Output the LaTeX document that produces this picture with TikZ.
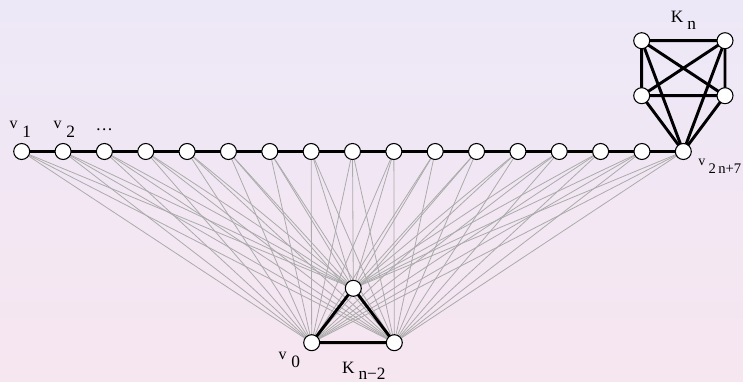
\documentclass[tikz,border=0pt]{standalone}
\usepackage{fontspec}
\setmainfont{Liberation Serif}
\usetikzlibrary{positioning,calc}
\definecolor{fondoa}{HTML}{EDE8F7}
\definecolor{fondob}{HTML}{F6E6F0}
\definecolor{grisl}{HTML}{ABABAB}
\pgfdeclarelayer{fondo}
\pgfdeclarelayer{aristas}
\pgfsetlayers{fondo,aristas,main}
\newcommand{\vsub}[1]{\raisebox{6.5pt}{\fontsize{12}{14}\selectfont v}\hspace{3.5pt}#1}
\newcommand{\ksub}[2]{K\hspace{3pt}\raisebox{-#2}{#1}}

\begin{document}
\begin{tikzpicture}[x=0.75pt,y=-0.75pt,
    vert/.style={circle,draw=black,fill=white,line width=0.8pt,minimum size=12pt,inner sep=0pt},
    fino/.style={draw=grisl,line width=0.6pt},
    grueso/.style={draw=black,line width=2.2pt},
    etiq/.style={inner sep=0pt,font=\fontsize{13}{15}\selectfont}]
  \begin{pgfonlayer}{fondo}
    \shade[top color=fondoa,bottom color=fondob] (0,0) rectangle (743,382);
  \end{pgfonlayer}
  \useasboundingbox (0,0) rectangle (743,382);
  % camino v_1 ... v_{2n+7}
  \foreach \i in {1,...,17}
    \node[vert] (p\i) at ({21.7+41.35*(\i-1)},151.5) {};
  % K_{n-2}
  \node[vert] (t0) at (311.7,342.7) {};
  \node[vert] (t1) at (353.3,288.3) {};
  \node[vert] (t2) at (394.3,342.7) {};
  % K_n
  \node[vert] (k1) at (641.7,40.7) {};
  \node[vert] (k2) at (725,40.7) {};
  \node[vert] (k3) at (641.7,95.7) {};
  \node[vert] (k4) at (725,95.7) {};
  \begin{pgfonlayer}{aristas}
    % aristas finas
    \foreach \i in {1,...,17}
      \foreach \t in {0,1,2}
        \draw[fino] (p\i.center) -- (t\t.center);
    % aristas gruesas
    \foreach \i [evaluate=\i as \j using int(\i+1)] in {1,...,16}
      \draw[grueso] (p\i.center) -- (p\j.center);
    \draw[grueso] (t0.center) -- (t1.center) -- (t2.center) -- cycle;
    \draw[grueso] (k1.center) -- (k2.center) -- (k4.center) -- (k3.center) -- cycle
                  (k1.center) -- (k4.center) (k2.center) -- (k3.center);
    \foreach \k in {k1,k2,k3,k4}
      \draw[grueso] (\k.center) -- (p17.center);
  \end{pgfonlayer}
  % etiquetas
  \node[etiq,above=4pt of p1,xshift=-1pt] (l1) {\vsub{1}};
  \node[etiq,above=4pt of p2,xshift=1pt] (l2) {\vsub{2}};
  \node[etiq,above=9pt of p3] (lpts) {\ldots};
  \node[etiq,font=\fontsize{11}{13}\selectfont,below right=1pt and 6.5pt of p17] (lfin)
    {\raisebox{6pt}{\fontsize{10.5}{12}\selectfont v}\hspace{2.5pt}2\,n+7};
  \node[etiq,below left=2pt and 4pt of t0] (l0) {\vsub{0}};
  \node[etiq,below right=9.5pt and 18pt of t0] (lkt) {\ksub{n−2}{4.5pt}};
  \node[etiq,above=8pt] (lkn) at ($(k1)!0.5!(k2)$) {\ksub{n}{5.5pt}};
\end{tikzpicture}
\end{document}
